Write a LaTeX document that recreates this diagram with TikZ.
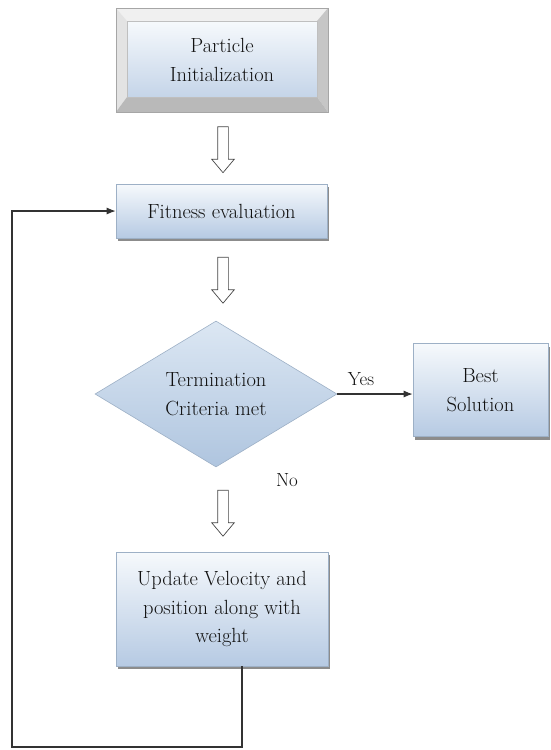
\documentclass[tikz,border=0pt]{standalone}
\usetikzlibrary{shapes.geometric,shapes.arrows,shadows,arrows.meta}
\definecolor{facetop}{HTML}{F6F9FC}
\definecolor{facebot}{HTML}{B6CAE3}
\definecolor{diatop}{HTML}{DCE7F3}
\definecolor{diabot}{HTML}{AFC5DF}
\definecolor{edge}{HTML}{9DB0C6}
\definecolor{ink}{HTML}{111111}
\definecolor{linec}{HTML}{333333}
\begin{document}
\begin{tikzpicture}[x=1pt,y=-1pt,
  txt/.style={text=ink, align=center, font=\rmfamily\fontsize{20.5}{28.5}\selectfont},
  box/.style={txt, rectangle, draw=edge, line width=0.6pt, top color=facetop, bottom color=facebot, inner sep=0pt,
    general shadow={fill=black!45, shadow xshift=2pt, shadow yshift=-3pt}},
  dia/.style={txt, diamond, shape aspect=1.66, minimum width=242pt, minimum height=146pt, inner sep=0pt,
    draw=edge, line width=0.6pt, top color=diatop, bottom color=diabot},
  bevel/.style={txt, rectangle, minimum width=212pt, minimum height=104pt, inner sep=0pt, draw=gray!70, line width=0.6pt,
    path picture={
      \coordinate (nw) at (path picture bounding box.north west);
      \coordinate (ne) at (path picture bounding box.north east);
      \coordinate (sw) at (path picture bounding box.south west);
      \coordinate (se) at (path picture bounding box.south east);
      \coordinate (inw) at ([shift={(11pt,-13pt)}]nw);
      \coordinate (ine) at ([shift={(-11pt,-13pt)}]ne);
      \coordinate (isw) at ([shift={(11pt,15pt)}]sw);
      \coordinate (ise) at ([shift={(-11pt,15pt)}]se);
      \fill[gray!12] (nw) -- (ne) -- (ine) -- (inw) -- cycle;
      \fill[gray!22] (nw) -- (inw) -- (isw) -- (sw) -- cycle;
      \fill[gray!45] (ne) -- (ine) -- (ise) -- (se) -- cycle;
      \fill[gray!55] (sw) -- (isw) -- (ise) -- (se) -- cycle;
      \shade[top color=facetop, bottom color=facebot!80] (inw) rectangle (ise);
      \draw[gray!50, line width=0.4pt] (inw) rectangle (ise);
    }},
  hollow/.style={single arrow, rotate=-90, draw=gray!55!black, fill=white, line width=0.7pt,
    minimum height=46pt, inner xsep=0pt, inner ysep=5pt, single arrow head extend=6pt, single arrow tip angle=80},
  conn/.style={draw=linec, line width=1.1pt, -{Latex[length=9pt,width=7pt]}},
  lbl/.style={text=ink, font=\rmfamily\fontsize{19}{22}\selectfont, inner sep=0pt}
]
\useasboundingbox (0,0) rectangle (550,750);

\node[bevel] (init) at (222,60) {Particle\\Initialization};
\node[box, minimum width=211pt, minimum height=54pt] (fit) at (221.5,211) {Fitness evaluation};
\node[dia] (dec) at (216,394) {Termination\\Criteria met};
\node[box, minimum width=135pt, minimum height=93pt] (best) at (480.5,390) {Best\\Solution};
\node[box, minimum width=212pt, minimum height=114pt] (upd) at (222,609) {Update Velocity and\\position along with\\weight};

\node[hollow] (h1) at (223,146.5) {};
\node[hollow] (h2) at (223,277) {};
\node[hollow] (h3) at (223,510) {};

\draw[conn] (dec.east) -- (best.west |- dec.east);
\node[lbl] (yes) at (361,379) {Yes};
\node[lbl] (no) at (287,480) {No};

\coordinate (c1) at (242,747);
\coordinate (c2) at (12,747);
\draw[conn] (upd.south -| c1) -- (c1) -- (c2) |- (fit.west);
\end{tikzpicture}
\end{document}
